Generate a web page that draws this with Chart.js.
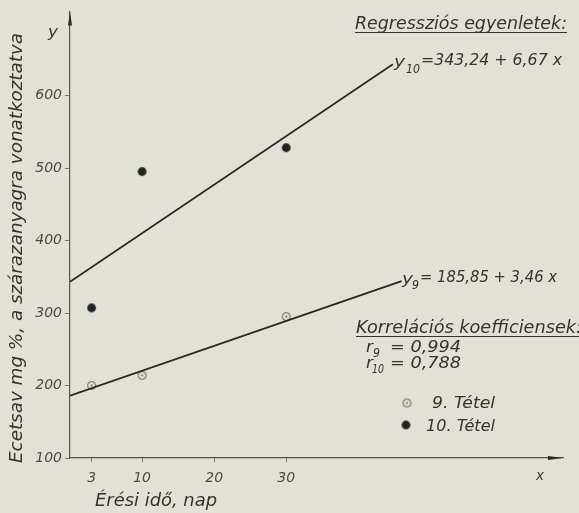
<!DOCTYPE html>
<html>
<head>
<meta charset="utf-8">
<script src="https://cdn.jsdelivr.net/npm/chart.js@4"></script>
<style>
  html, body { margin: 0; padding: 0; background: #e2e1d5; }
  canvas { display: block; }
</style>
</head>
<body>
<canvas id="chart" width="579" height="513"></canvas>
<script>
// Data
const days = [3, 10, 30];
const batch9 = [200, 214, 295];
const batch10 = [307, 495, 528];
// regression line end points
const fit9X = [0, 46];
const fit9Y = [186, 344];
const fit10X = [0, 44.8];
const fit10Y = [343, 643];
const xTicks = [3, 10, 20, 30];
const yTicks = [100, 200, 300, 400, 500, 600];

const FONT = "'DejaVu Sans', sans-serif";
const WEIGHT = 200;
const ink = '#333333';

function toPoints(xs, ys) {
    return xs.map((x, i) => ({ x: x, y: ys[i] }));
}

// marker images
function ringMarker() {
    const c = document.createElement('canvas');
    c.width = 11; c.height = 11;
    const g = c.getContext('2d');
    g.strokeStyle = '#5a5a5a';
    g.lineWidth = 1;
    g.beginPath(); g.arc(5.5, 5.5, 4, 0, Math.PI * 2); g.stroke();
    g.fillStyle = '#5a5a5a';
    g.beginPath(); g.arc(5.5, 5.5, 0.9, 0, Math.PI * 2); g.fill();
    return c;
}
function dotMarker() {
    const c = document.createElement('canvas');
    c.width = 11; c.height = 11;
    const g = c.getContext('2d');
    g.fillStyle = '#232323';
    g.beginPath(); g.arc(5.5, 5.5, 4.4, 0, Math.PI * 2); g.fill();
    return c;
}
const openImg = ringMarker();
const fullImg = dotMarker();

function fitText(ctx, text, x, y, w, size) {
    ctx.save();
    ctx.font = `italic ${WEIGHT} ${size}px ${FONT}`;
    const m = ctx.measureText(text).width;
    ctx.translate(x, y);
    ctx.scale(w / m, 1);
    ctx.fillText(text, 0, 0);
    ctx.restore();
}

const decor = {
    id: 'decor',
    beforeDraw(chart) {
        const ctx = chart.ctx;
        ctx.save();
        ctx.fillStyle = '#e2e1d5';
        ctx.fillRect(0, 0, chart.width, chart.height);
        ctx.restore();
    },
    afterDraw(chart) {
        const ctx = chart.ctx;
        const a = chart.chartArea;
        ctx.save();
        ctx.fillStyle = '#2a2a2a';
        // axis arrows
        ctx.beginPath();
        ctx.moveTo(a.left, a.top);
        ctx.lineTo(a.left - 2, a.top + 14);
        ctx.lineTo(a.left + 2, a.top + 14);
        ctx.closePath(); ctx.fill();
        ctx.beginPath();
        ctx.moveTo(a.right, a.bottom);
        ctx.lineTo(a.right - 15, a.bottom - 2);
        ctx.lineTo(a.right - 15, a.bottom + 2);
        ctx.closePath(); ctx.fill();

        ctx.fillStyle = ink;
        ctx.textBaseline = 'alphabetic';
        ctx.textAlign = 'left';

        // axis letters
        fitText(ctx, 'y', 48, 37, 10, 16);
        fitText(ctx, 'x', 536, 480, 8, 14);

        // y axis title
        ctx.save();
        ctx.translate(22, 463);
        ctx.rotate(-Math.PI / 2);
        fitText(ctx, 'Ecetsav mg %, a szárazanyagra vonatkoztatva', 0, 0, 430, 17);
        ctx.restore();

        // x axis title
        fitText(ctx, 'Érési idő, nap', 95, 506, 122, 17);

        // regression block
        fitText(ctx, 'Regressziós egyenletek:', 355, 29, 212, 18);
        ctx.fillRect(355, 32, 212, 1);
        fitText(ctx, 'y', 394, 67, 11, 16);
        fitText(ctx, '10', 406, 73, 14, 12);
        fitText(ctx, '=343,24 + 6,67 x', 421, 65, 141, 15);

        fitText(ctx, 'y', 402, 284, 11, 16);
        fitText(ctx, '9', 412, 289, 7, 12);
        fitText(ctx, '= 185,85 + 3,46 x', 420, 282, 137, 15);

        // correlation block
        fitText(ctx, 'Korrelációs koefficiensek:', 356, 333, 226, 18);
        ctx.fillRect(356, 336, 223, 1);
        fitText(ctx, 'r', 366, 352, 7, 15);
        fitText(ctx, '9', 373, 357, 7, 12);
        fitText(ctx, '= 0,994', 390, 352, 71, 15);
        fitText(ctx, 'r', 366, 368, 7, 15);
        fitText(ctx, '10', 372, 373, 12, 12);
        fitText(ctx, '= 0,788', 390, 368, 71, 15);

        // legend
        ctx.drawImage(openImg, 407 - 5.5, 403 - 5.5);
        fitText(ctx, '9. Tétel', 432, 408, 63, 15);
        ctx.drawImage(fullImg, 406 - 5.5, 425 - 5.5);
        fitText(ctx, '10. Tétel', 426, 431, 69, 15);
        ctx.restore();
    }
};

const tickFont = { family: FONT, size: 14, style: 'italic', weight: WEIGHT };

new Chart(document.getElementById('chart'), {
    type: 'scatter',
    data: {
        datasets: [
            {
                label: 'y10',
                data: toPoints(fit10X, fit10Y),
                showLine: true,
                borderColor: '#262626',
                borderWidth: 1.7,
                pointRadius: 0
            },
            {
                label: 'y9',
                data: toPoints(fit9X, fit9Y),
                showLine: true,
                borderColor: '#262626',
                borderWidth: 1.7,
                pointRadius: 0
            },
            {
                label: '9. Tétel',
                data: toPoints(days, batch9),
                pointStyle: openImg,
                pointRadius: 5
            },
            {
                label: '10. Tétel',
                data: toPoints(days, batch10),
                pointStyle: fullImg,
                pointRadius: 5
            }
        ]
    },
    options: {
        responsive: false,
        animation: false,
        devicePixelRatio: 1,
        layout: { padding: { top: 9, right: 16, left: 0, bottom: 0 } },
        plugins: {
            legend: { display: false },
            tooltip: { enabled: false }
        },
        scales: {
            x: {
                type: 'linear',
                min: 0,
                max: 68.4,
                afterBuildTicks: s => { s.ticks = xTicks.map(v => ({ value: v })); },
                afterFit: s => { s.height = 55; },
                grid: { drawOnChartArea: false, drawTicks: true, tickLength: 4, color: '#777' },
                border: { display: true, color: '#555', width: 1.2 },
                ticks: { font: tickFont, color: '#4a4a4a', padding: 8, maxRotation: 0, autoSkip: false }
            },
            y: {
                type: 'linear',
                min: 100,
                max: 716,
                afterBuildTicks: s => { s.ticks = yTicks.map(v => ({ value: v })); },
                afterFit: s => { s.width = 70; },
                grid: { drawOnChartArea: false, drawTicks: true, tickLength: 5, color: '#777' },
                border: { display: true, color: '#555', width: 1.2 },
                ticks: { font: tickFont, color: '#4a4a4a', padding: 3, autoSkip: false }
            }
        }
    },
    plugins: [decor]
});
</script>
</body>
</html>
